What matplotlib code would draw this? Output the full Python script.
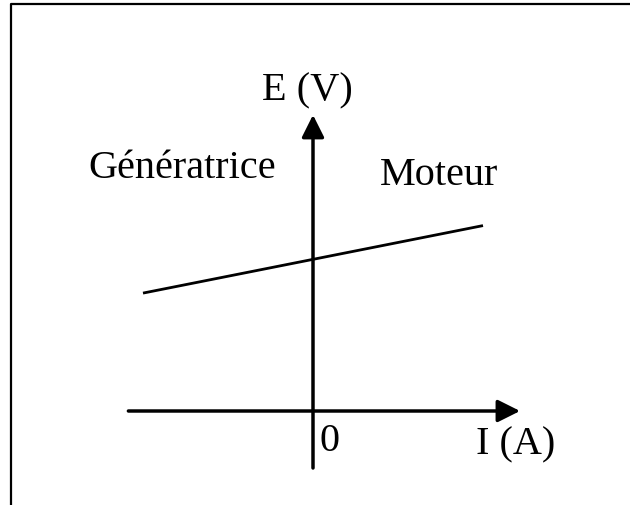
import matplotlib
matplotlib.use("Agg")
import matplotlib.pyplot as plt
from matplotlib.lines import Line2D

# E = f(I) characteristic (arbitrary units)
current = [-5.0, 5.0]
emf = [3.93, 6.18]

# extent of the drawn axes
i_axis = [-5.43, 6.09]
e_axis = [-1.9, 9.87]

plt.rcParams["font.family"] = ["Liberation Serif", "DejaVu Serif"]

fig = plt.figure(figsize=(6.3, 5.06), dpi=100)
ax = fig.add_axes([0, 0, 1, 1])
ax.set_xlim(-313 / 34, 317 / 34)
ax.set_ylim(-94 / 30, 412 / 30)
ax.axis("off")

# axes with arrow heads
arrow = dict(arrowstyle="-|>", mutation_scale=34, lw=2.5, color="black",
             shrinkA=0, shrinkB=0)
ax.annotate("", xy=(i_axis[1], 0), xytext=(i_axis[0], 0), arrowprops=arrow)
ax.annotate("", xy=(0, e_axis[1]), xytext=(0, e_axis[0]), arrowprops=arrow)

# characteristic line
ax.plot(current, emf, color="black", lw=2.0, solid_capstyle="butt")

fs = 29
ax.text(-0.18, 10.4, "E (V)", fontsize=fs, ha="center", va="baseline")
ax.text(-3.85, 7.8, "Génératrice", fontsize=fs, ha="center", va="baseline")
ax.text(3.71, 7.57, "Moteur", fontsize=fs, ha="center", va="baseline")
ax.text(0.2, -1.3, "0", fontsize=fs, ha="left", va="baseline")
ax.text(5.97, -1.43, "I (A)", fontsize=fs, ha="center", va="baseline")

# frame around the figure (top and left edges only)
x0, y0 = 11 / 630, 1 - 5 / 506
fig.add_artist(Line2D([x0, x0, 1], [0, y0, y0], color="black", lw=1.6,
                      transform=fig.transFigure))

fig.savefig("out.png", dpi=100)
